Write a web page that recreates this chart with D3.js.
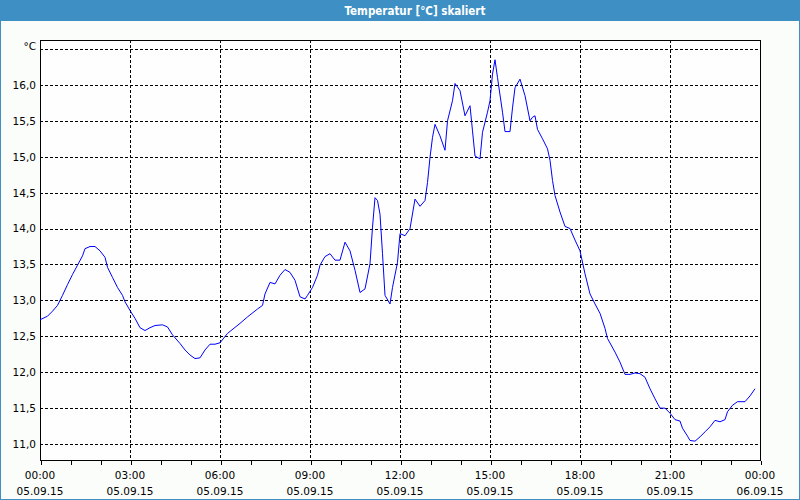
<!DOCTYPE html>
<html>
<head>
<meta charset="utf-8">
<script src="https://cdn.jsdelivr.net/npm/d3@7"></script>
<style>
html,body{margin:0;padding:0;background:#fbfdfb;}
svg{display:block;}
</style>
</head>
<body>
<svg id="chart" width="800" height="500"></svg>
<script>
// ---- data ----
const titleText = "Temperatur [°C] skaliert";
const unitLabel = "°C";
// minutes since 05.09.15 00:00
const minutes = [0,15,25,35,45,55,65,75,85,90,100,110,120,130,135,145,155,165,170,180,190,200,210,220,230,245,255,265,280,290,300,310,320,330,340,350,360,375,400,415,435,445,450,460,470,480,490,500,510,520,530,535,545,555,560,570,580,590,600,610,620,630,640,650,660,665,670,675,680,685,690,700,705,715,720,730,740,750,760,770,775,780,785,790,800,810,815,825,830,840,850,860,865,870,880,885,895,900,905,910,915,925,930,940,945,950,960,970,980,985,990,995,1005,1015,1020,1025,1030,1040,1050,1060,1070,1080,1090,1100,1110,1120,1130,1135,1150,1160,1170,1180,1190,1200,1210,1220,1230,1240,1250,1260,1270,1280,1285,1295,1300,1310,1320,1330,1340,1350,1360,1370,1375,1385,1395,1410,1420,1430];
const temps = [12.73,12.78,12.85,12.93,13.07,13.22,13.36,13.49,13.62,13.72,13.75,13.75,13.69,13.60,13.46,13.32,13.18,13.07,12.98,12.86,12.75,12.62,12.58,12.62,12.65,12.66,12.63,12.52,12.40,12.31,12.24,12.19,12.20,12.31,12.39,12.39,12.41,12.54,12.68,12.77,12.88,12.93,13.09,13.25,13.23,13.35,13.43,13.39,13.28,13.05,13.02,13.07,13.18,13.35,13.49,13.61,13.65,13.56,13.56,13.81,13.69,13.42,13.11,13.16,13.51,14.02,14.43,14.39,14.20,13.65,13.07,12.95,13.18,13.53,13.93,13.90,14.00,14.41,14.31,14.39,14.64,14.99,15.27,15.45,15.29,15.09,15.50,15.78,16.02,15.92,15.57,15.71,15.36,15.01,14.97,15.34,15.62,15.78,16.15,16.35,16.10,15.62,15.35,15.35,15.68,15.96,16.08,15.85,15.50,15.55,15.57,15.38,15.25,15.11,14.95,14.67,14.46,14.23,14.03,14.00,13.84,13.69,13.37,13.09,12.95,12.82,12.61,12.47,12.28,12.14,11.97,11.97,11.99,11.98,11.93,11.77,11.63,11.50,11.50,11.43,11.34,11.32,11.22,11.11,11.05,11.04,11.10,11.17,11.24,11.33,11.31,11.34,11.45,11.54,11.59,11.59,11.67,11.77];
const yTicks = [11.0,11.5,12.0,12.5,13.0,13.5,14.0,14.5,15.0,15.5,16.0,16.5];
const yLabelTicks = [11.0,11.5,12.0,12.5,13.0,13.5,14.0,14.5,15.0,15.5,16.0];
const startDate = new Date(2015, 8, 5, 0, 0);
const endDate = new Date(2015, 8, 6, 0, 0);
const yDomain = [10.778, 16.625];

// ---- layout ----
const W = 800, H = 500;
const m = {left: 40, right: 40, top: 40, bottom: 40};
const svg = d3.select("#chart");

svg.append("rect").attr("x",0).attr("y",0).attr("width",W).attr("height",H).attr("fill","#fbfdfb");
// title bar
svg.append("rect").attr("x",0).attr("y",0).attr("width",W).attr("height",21).attr("fill","#3d8fc4");
svg.append("text").attr("x",415).attr("y",11).attr("text-anchor","middle").attr("dominant-baseline","central")
  .attr("fill","#ffffff").attr("font-family","'DejaVu Sans Condensed','Liberation Sans',sans-serif")
  .attr("font-weight","bold").attr("font-size","11.5px").text(titleText);
// outer frame
svg.append("rect").attr("x",0.5).attr("y",0.5).attr("width",W-1).attr("height",H-1).attr("fill","none").attr("stroke","#3d8fc4").attr("stroke-width",1);

const x = d3.scaleTime().domain([startDate, endDate]).range([m.left, W - m.right]);
const y = d3.scaleLinear().domain(yDomain).range([H - m.bottom, m.top]);

const data = minutes.map((mm, i) => ({t: new Date(startDate.getTime() + mm*60000), v: temps[i]}));

const fontFam = "'DejaVu Sans',sans-serif";

// plot background
svg.append("rect").attr("x",m.left).attr("y",m.top).attr("width",W-m.left-m.right).attr("height",H-m.top-m.bottom).attr("fill","#fdfefd");

// horizontal grid
svg.append("g").selectAll("line").data(yTicks).join("line")
  .attr("x1",m.left).attr("x2",W-m.right)
  .attr("y1",d=>Math.round(y(d))+0.5).attr("y2",d=>Math.round(y(d))+0.5)
  .attr("stroke","#000").attr("stroke-width",1).attr("stroke-dasharray","3,2").attr("shape-rendering","crispEdges");

// vertical grid
const xMajor = x.ticks(d3.timeHour.every(3)).filter(d => d > startDate && d < endDate);
svg.append("g").selectAll("line").data(xMajor).join("line")
  .attr("x1",d=>Math.round(x(d))+0.5).attr("x2",d=>Math.round(x(d))+0.5)
  .attr("y1",m.top).attr("y2",H-m.bottom)
  .attr("stroke","#000").attr("stroke-width",1).attr("stroke-dasharray","3,2").attr("shape-rendering","crispEdges");

// plot border
svg.append("rect").attr("x",m.left+0.5).attr("y",m.top+0.5).attr("width",W-m.left-m.right).attr("height",H-m.top-m.bottom)
  .attr("fill","none").attr("stroke","#000").attr("stroke-width",1).attr("shape-rendering","crispEdges");

// x axis (minor hour ticks)
const xAxis = d3.axisBottom(x).ticks(d3.timeHour.every(1)).tickSize(4).tickFormat("");
const gx = svg.append("g").attr("transform",`translate(0.5,${H-m.bottom+0.5})`).call(xAxis);
gx.select(".domain").remove();
gx.selectAll("line").attr("stroke","#000").attr("shape-rendering","crispEdges");

// x labels
const xLabelTicks = x.ticks(d3.timeHour.every(3));
const fTime = d3.timeFormat("%H:%M"), fDate = d3.timeFormat("%d.%m.%y");
const xl = svg.append("g").selectAll("g").data(xLabelTicks).join("g");
xl.append("text").attr("x",d=>x(d)).attr("y",475).attr("text-anchor","middle").attr("dominant-baseline","central")
  .attr("font-family",fontFam).attr("font-size","10.5px").attr("fill","#000").text(d=>fTime(d));
xl.append("text").attr("x",d=>x(d)).attr("y",491).attr("text-anchor","middle").attr("dominant-baseline","central")
  .attr("font-family",fontFam).attr("font-size","10.5px").attr("fill","#000").text(d=>fDate(d));

// y labels
const yAxis = d3.axisLeft(y).tickValues(yLabelTicks).tickSize(0).tickPadding(4).tickFormat(d => d3.format(".1f")(d).replace(".", ","));
const gy = svg.append("g").attr("transform",`translate(${m.left},0)`).call(yAxis);
gy.select(".domain").remove();
gy.selectAll("text").attr("font-family",fontFam).attr("font-size","10.5px").attr("fill","#000");

svg.append("text").attr("x",36).attr("y",46).attr("text-anchor","end").attr("dominant-baseline","central")
  .attr("font-family",fontFam).attr("font-size","10.5px").attr("fill","#000").text(unitLabel);

// line
const line = d3.line().x(d=>x(d.t)).y(d=>y(d.v));
svg.append("path").datum(data).attr("d",line).attr("fill","none").attr("stroke","#0000ff").attr("stroke-width",1);
</script>
</body>
</html>
